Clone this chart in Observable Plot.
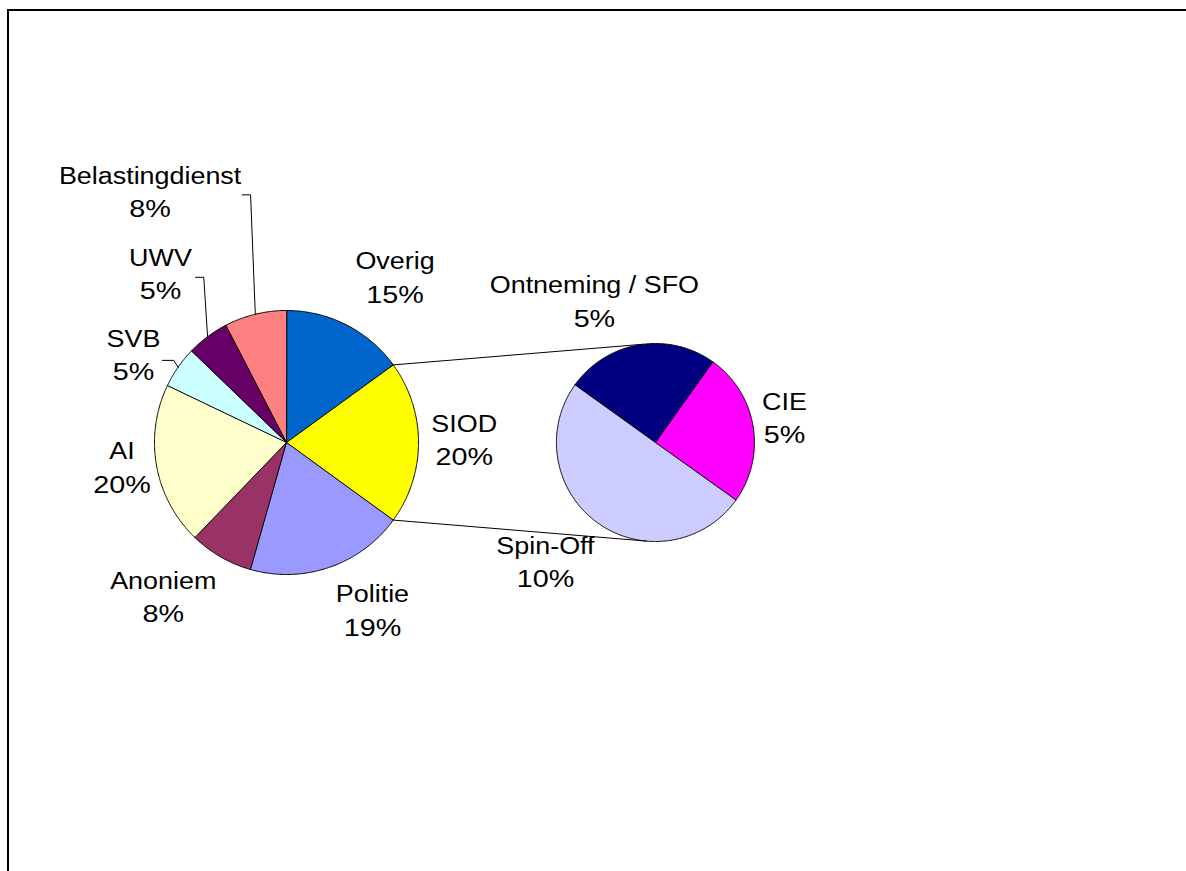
<!DOCTYPE html>
<html><head><meta charset="utf-8">
<script src="https://cdn.jsdelivr.net/npm/d3@7"></script>
<script src="https://cdn.jsdelivr.net/npm/@observablehq/plot@0.6"></script>
<style>
html,body{margin:0;padding:0;background:#fff;overflow:hidden;}
#chart{position:absolute;left:0;top:0;}
#frame{position:absolute;left:7px;top:9px;width:1400px;height:1000px;border-left:2px solid #000;border-top:2px solid #000;z-index:2;pointer-events:none;}
</style></head><body>
<div id="chart"></div>
<div id="frame"></div>
<script>
// ---- data ----
const mainCategories = ["Overig", "SIOD", "Politie", "Anoniem", "AI", "SVB", "UWV", "Belastingdienst"];
const mainValues = [15.0, 20.0, 19.4, 7.8, 19.9, 5.1, 5.2, 7.6];
const mainColors = ["#0066CC", "#FFFF00", "#9999FF", "#993366", "#FFFFCC", "#CCFFFF", "#660066", "#FF8080"];
const splitCategory = "SIOD";
const subCategories = ["Ontneming / SFO", "CIE", "Spin-Off"];
const subValues = [5, 5, 10];
const subColors = ["#000080", "#FF00FF", "#CCCCFF"];

// ---- layout ----
const W = 1186, H = 871;
const PX = 132;                 // pixels per unit (main pie radius)
const C0 = [286, 442];          // main pie centre in pixels
const subCenter = [2.795, 0];   // secondary pie centre (units)
const subR = 0.75;              // secondary pie radius (units)
const subStart = -54.5;         // start angle of secondary pie (deg)
const connectorAngles = [-7, 185]; // where connectors meet the secondary pie
const lineGap = 33.4;
const nameFont = 23, nameStretch = 1.17, pctStretch = 1.25;
// label offsets (px) from slice edge midpoint
const labelNudge = {
  "Overig": [48.6, -55.4], "SIOD": [45.7, -11], "Politie": [42.8, 35], "Anoniem": [-57.5, 31.6],
  "AI": [-34.6, -6.6], "SVB": [-44.5, -20.2], "UWV": [-47.1, -71.1], "Belastingdienst": [-105.2, -130.7],
  "Ontneming / SFO": [-44.7, -51.7], "CIE": [31.4, -16.4], "Spin-Off": [-52.5, 30.7]
};
// leader lines: start offset from label anchor (px) and horizontal bend length (px)
const leaders = {
  "Belastingdienst": [92.2, 11.3, 8.3],
  "UWV": [35, 11.7, 8.3],
  "SVB": [28.7, 13.3, 11.6]
};

const rad = d => d * Math.PI / 180;
const polar = (c, r, a) => [c[0] + r * Math.sin(rad(a)), c[1] + r * Math.cos(rad(a))];

function slices(cats, vals, center, r, start) {
  const total = d3.sum(vals);
  let a = start;
  return cats.map((k, i) => {
    const a0 = a, a1 = a + vals[i] / total * 360;
    a = a1;
    return {key: k, value: vals[i], a0, a1, mid: (a0 + a1) / 2, center, r};
  });
}
const grand = d3.sum(mainValues);
const mainSlices = slices(mainCategories, mainValues, [0, 0], 1, 0);
const subSlices = slices(subCategories, subValues, subCenter, subR, subStart);
const allSlices = [...mainSlices, ...subSlices];

const polyPoints = [];
for (const s of allSlices) {
  polyPoints.push({key: s.key, x: s.center[0], y: s.center[1]});
  const n = Math.max(2, Math.ceil((s.a1 - s.a0) / 0.5));
  for (let j = 0; j <= n; j++) {
    const [x, y] = polar(s.center, s.r, s.a0 + (s.a1 - s.a0) * j / n);
    polyPoints.push({key: s.key, x, y});
  }
}

const labels = allSlices.map(s => {
  const [ex, ey] = polar(s.center, s.r, s.mid);
  const [nx, ny] = labelNudge[s.key];
  return {key: s.key, x: ex + nx / PX, y: ey - ny / PX, edge: [ex, ey],
          pct: Math.round(s.value / grand * 100) + "%"};
});

const leaderPoints = [];
for (const l of labels) {
  const ld = leaders[l.key];
  if (!ld) continue;
  const sx = l.x + ld[0] / PX, sy = l.y - ld[1] / PX;
  leaderPoints.push({key: l.key, x: sx, y: sy});
  leaderPoints.push({key: l.key, x: sx + ld[2] / PX, y: sy});
  leaderPoints.push({key: l.key, x: l.edge[0], y: l.edge[1]});
}

const split = mainSlices.find(s => s.key === splitCategory);
const connectors = [split.a0, split.a1].map((a, i) => {
  const [x1, y1] = polar([0, 0], 1, a);
  const [x2, y2] = polar(subCenter, subR, connectorAngles[i]);
  return {x1, y1, x2, y2};
});

const chart = Plot.plot({
  width: W, height: H, margin: 0,
  style: {fontFamily: "'Liberation Sans', Arial, sans-serif", background: "transparent"},
  x: {domain: [-C0[0] / PX, (W - C0[0]) / PX], range: [0, W], axis: null},
  y: {domain: [-(H - C0[1]) / PX, C0[1] / PX], range: [H, 0], axis: null},
  color: {type: "ordinal", domain: [...mainCategories, ...subCategories], range: [...mainColors, ...subColors]},
  marks: [
    Plot.line(polyPoints, {x: "x", y: "y", z: "key", fill: "key", stroke: "#000", strokeWidth: 1, curve: "linear-closed"}),
    Plot.link(connectors, {x1: "x1", y1: "y1", x2: "x2", y2: "y2", stroke: "#000", strokeWidth: 1}),
    Plot.line(leaderPoints, {x: "x", y: "y", z: "key", stroke: "#000", strokeWidth: 1}),
    Plot.text(labels, {x: "x", y: "y", text: "key", fontSize: nameFont, lineAnchor: "bottom", textAnchor: "middle", fill: "#000"}),
    Plot.text(labels, {x: "x", y: "y", text: "pct", dy: lineGap, fontSize: nameFont, lineAnchor: "bottom", textAnchor: "middle", fill: "#000"})
  ]
});
document.getElementById("chart").appendChild(chart);

// horizontal stretch of label glyphs (as in the original rendering)
const groups = chart.querySelectorAll('g[aria-label="text"]');
groups.forEach((g, gi) => {
  const s = gi === 0 ? nameStretch : pctStretch;
  g.querySelectorAll("text").forEach(t => {
    const tr = t.getAttribute("transform");
    if (tr && tr.includes("translate")) {
      t.setAttribute("transform", tr + ` scale(${s},1)`);
    } else {
      const x = +t.getAttribute("x") || 0, y = +t.getAttribute("y") || 0;
      t.removeAttribute("x"); t.removeAttribute("y");
      t.setAttribute("transform", `translate(${x},${y}) scale(${s},1)`);
    }
  });
});
</script>
</body></html>
